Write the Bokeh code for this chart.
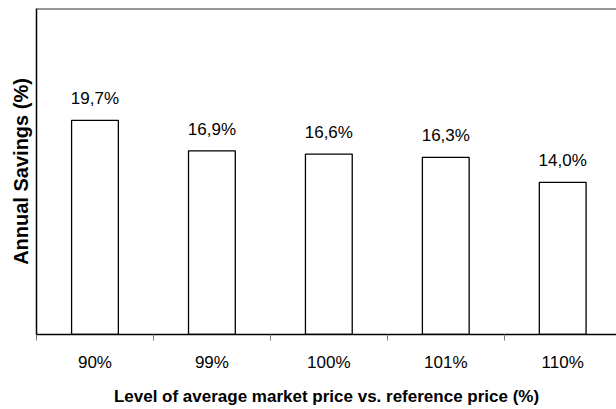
from bokeh.plotting import figure
from bokeh.models import ColumnDataSource, Range1d, FixedTicker, Span, LabelSet
from bokeh.core.properties import value
from bokeh.embed import file_html
from bokeh.resources import INLINE

# Price levels vs. reference price and the resulting annual savings
categories = ["90%", "99%", "100%", "101%", "110%"]
savings = [19.7, 16.9, 16.6, 16.3, 14.0]
value_labels = ["19,7%", "16,9%", "16,6%", "16,3%", "14,0%"]

FONT = "Liberation Sans"
n = len(categories)
centers = [i + 0.5 for i in range(n)]

source = ColumnDataSource(data=dict(
    x=centers,
    top=savings,
    label=value_labels,
))

p = figure(
    width=616, height=409,
    output_backend="svg", toolbar_location=None,
    x_range=Range1d(0, 4.96), y_range=Range1d(0, 30),
    min_border_left=36, min_border_top=8, min_border_bottom=75, min_border_right=0,
)
p.outline_line_color = None
p.xgrid.visible = False
p.ygrid.visible = False
p.background_fill_color = "white"
p.border_fill_color = "white"

p.vbar(x="x", top="top", width=0.4, bottom=0, source=source,
       fill_color="white", line_color="black", line_width=1.3)

labels = LabelSet(x="x", y="top", text="label", source=source,
                  text_align="center", text_baseline="alphabetic",
                  y_offset=16, text_font=value(FONT), text_font_size="17px",
                  text_color="black")
p.add_layout(labels)

# top edge of the plotting area
p.add_layout(Span(location=30, dimension="width", line_color="#333333", line_width=2))

# x axis: labels at category centres, tick marks at category boundaries
xa = p.xaxis[0]
xa.ticker = FixedTicker(ticks=centers, minor_ticks=list(range(n + 1)))
xa.major_label_overrides = {c: lab for c, lab in zip(centers, categories)}
xa.major_tick_out = 0
xa.major_tick_in = 0
xa.minor_tick_out = 6
xa.minor_tick_in = 0
xa.minor_tick_line_color = "#777777"
xa.axis_line_color = "black"
xa.axis_line_width = 1.5
xa.major_label_standoff = 12
xa.major_label_text_font = FONT
xa.major_label_text_font_size = "17px"
xa.major_label_text_color = "black"
xa.axis_label = "Level of average market price vs. reference price (%)"
xa.axis_label_text_font = FONT
xa.axis_label_text_font_size = "17px"
xa.axis_label_text_font_style = "bold"
xa.axis_label_text_color = "black"
xa.axis_label_standoff = 12

ya = p.yaxis[0]
ya.ticker = FixedTicker(ticks=[])
ya.major_tick_out = 0
ya.major_tick_in = 0
ya.minor_tick_out = 0
ya.minor_tick_in = 0
ya.axis_line_color = "black"
ya.axis_line_width = 1.5
ya.axis_label = "Annual Savings (%)"
ya.axis_label_text_font = FONT
ya.axis_label_text_font_size = "20px"
ya.axis_label_text_font_style = "bold"
ya.axis_label_text_color = "black"
ya.axis_label_standoff = 5

open("out.html", "w").write(file_html(p, INLINE))
